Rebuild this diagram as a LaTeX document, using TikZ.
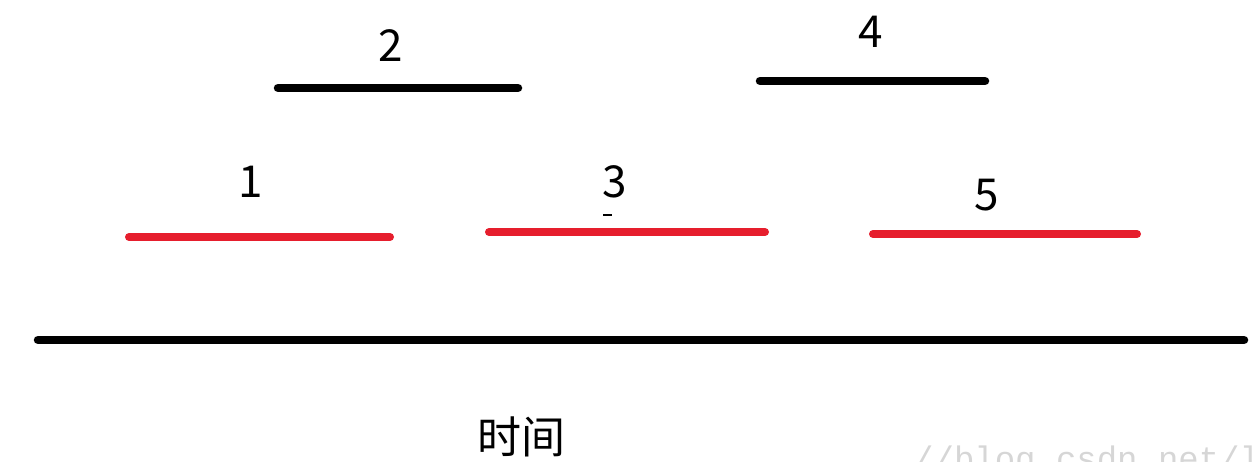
\documentclass[tikz,border=0pt]{standalone}
\usepackage{fontspec}
\setmainfont{Noto Sans CJK SC}
\newfontfamily\markfont{Liberation Mono}
\usepackage{tikz}
\usetikzlibrary{positioning}

\definecolor{intervalred}{RGB}{230,30,45}

\begin{document}
\begin{tikzpicture}[x=1pt, y=-1pt, line cap=round,
    blackseg/.style={draw=black, line width=8.5pt},
    redseg/.style={draw=intervalred, line width=8pt},
    axisline/.style={draw=black, line width=8.5pt},
    every node/.style={inner sep=0pt, font=\fontsize{44}{48}\selectfont}]
        \useasboundingbox (0,0) rectangle (1254,462);
        \clip (0,0) rectangle (1254,462);

        % upper row
        \coordinate (s2) at (278,88);  \coordinate (e2) at (518,88);
        \coordinate (s4) at (760,81);  \coordinate (e4) at (985,81);
        \draw[blackseg] (s2) -- (e2);
        \draw[blackseg] (s4) -- (e4);
        \node (l2) at (391,46) {2};
        \node (l4) at (871,32) {4};

        % lower row
        \coordinate (s1) at (129,237); \coordinate (e1) at (390,237);
        \coordinate (s3) at (489,232); \coordinate (e3) at (765,232);
        \coordinate (s5) at (873,234); \coordinate (e5) at (1137,234);
        \draw[redseg] (s1) -- (e1);
        \draw[redseg] (s3) -- (e3);
        \draw[redseg] (s5) -- (e5);
        \node (l1) at (251,182) {1};
        \node (l3) at (615,182) {3};
        \node (l5) at (987,195) {5};
        \coordinate (d1) at (603,215); \coordinate (d2) at (612,215);
        \draw[line width=2.5pt, line cap=butt] (d1) -- (d2);

        % time axis
        \coordinate (t0) at (38,340); \coordinate (t1) at (1244,340);
        \draw[axisline] (t0) -- (t1);
        \node (time) at (521,437) {时间};

        \node (wm) [anchor=base west, text=black!16, font=\markfont\fontsize{34}{38}\selectfont] at (913,470) {//blog.csdn.net/lo};
    \end{tikzpicture}
\end{document}
